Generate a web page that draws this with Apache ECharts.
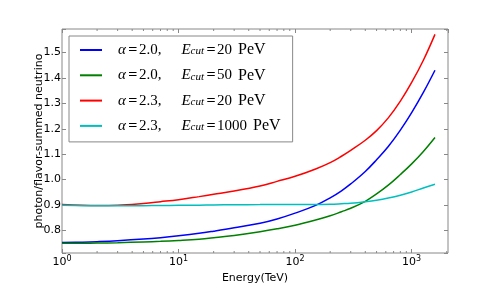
<!DOCTYPE html>
<html>
<head>
<meta charset="utf-8">
<script src="https://cdn.jsdelivr.net/npm/echarts@6/dist/echarts.min.js"></script>
<style>html,body{margin:0;padding:0;background:#fff;}#c{width:498px;height:289px;}</style>
</head>
<body>
<div id="c"></div>
<script>
// Energy (TeV) sample points
const energy = [1, 1.5, 2, 3, 5, 7, 10, 15, 20, 30, 50, 70, 100, 150, 200, 250, 300, 400, 500, 630, 800, 1000, 1260, 1585];
// photon / flavor-summed neutrino ratios
const blue_a20_E20   = [0.752,0.7537,0.7556,0.7593,0.7657,0.7713,0.7787,0.7885,0.797,0.810,0.828,0.845,0.868,0.8985,0.928,0.956,0.983,1.032,1.078,1.1302,1.1949,1.2638,1.3434,1.4307];
const green_a20_E50  = [0.749,0.7495,0.7502,0.7515,0.7545,0.757,0.7605,0.7655,0.771,0.780,0.7946,0.8062,0.8206,0.841,0.8575,0.8735,0.887,0.9145,0.9435,0.978,1.020,1.062,1.111,1.166];
const red_a23_E20    = [0.902,0.899,0.898,0.899,0.906,0.913,0.921,0.933,0.942,0.955,0.975,0.993,1.013,1.042,1.067,1.092,1.115,1.155,1.193,1.243,1.309,1.3825,1.470,1.572];
const cyan_a23_E1000 = [0.899,0.8975,0.897,0.897,0.8975,0.898,0.899,0.8995,0.900,0.901,0.9015,0.902,0.902,0.902,0.903,0.905,0.907,0.913,0.919,0.9275,0.9386,0.9515,0.967,0.982];

const alphas = ['2.0', '2.0', '2.3', '2.3'];
const ecuts = ['20', '50', '20', '1000'];
const seriesNames = alphas.map((a, i) => '{a|α}{e|=}{n|' + a + ',}{E|E}{s|cut}{q|=}{v|' + ecuts[i] + '}{p|PeV}');
const seriesColors = ['#0000ff', '#008000', '#ff0000', '#00bfbf'];
const seriesData = [blue_a20_E20, green_a20_E50, red_a23_E20, cyan_a23_E1000];

const xMin = 1, xMax = 2050, yMin = 0.711, yMax = 1.593;
const frame = '#888';

const minorTicks = [];
[1, 10, 100, 1000].forEach(d => { for (let k = 2; k <= 9; k++) { const v = k * d; if (v < xMax) minorTicks.push([v, yMin]); } });

const chart = echarts.init(document.getElementById('c'), null, {renderer: 'canvas'});

const supFmt = v => {
  const e = Math.round(Math.log10(v));
  if (Math.abs(Math.log10(v) - e) > 1e-6) return '';
  return '{b|10}{s|' + e + '}';
};

const series = seriesData.map((d, i) => ({
  name: seriesNames[i],
  type: 'line',
  data: energy.map((e, j) => [e, d[j]]),
  symbol: 'none',
  smooth: 0.4,
  lineStyle: {color: seriesColors[i], width: 1.5},
  itemStyle: {color: seriesColors[i]},
  xAxisIndex: 0, yAxisIndex: 0
}));

series.push({
  type: 'custom',
  xAxisIndex: 0, yAxisIndex: 0,
  data: minorTicks,
  silent: true,
  clip: false,
  renderItem: (params, api) => {
    const pb = api.coord([api.value(0), yMin]);
    const pt = api.coord([api.value(0), yMax]);
    return {type: 'group', children: [
      {type: 'line', shape: {x1: pb[0], y1: pb[1], x2: pb[0], y2: pb[1] - 2}, style: {stroke: frame, lineWidth: 1}},
      {type: 'line', shape: {x1: pt[0], y1: pt[1], x2: pt[0], y2: pt[1] + 2}, style: {stroke: frame, lineWidth: 1}}
    ]};
  }
});

const serif = 'Liberation Serif';
const richLegend = {
  a: {fontFamily: serif, fontStyle: 'italic', fontSize: 15, lineHeight: 14, padding: [0, 0, 0, 11]},
  e: {fontFamily: 'DejaVu Serif', fontSize: 12, lineHeight: 14, padding: [0, 1, 0, 2]},
  n: {fontFamily: serif, fontSize: 15, lineHeight: 14, padding: [0, 20, 0, 0]},
  E: {fontFamily: serif, fontStyle: 'italic', fontSize: 15, lineHeight: 14},
  s: {fontFamily: serif, fontStyle: 'italic', fontSize: 11, lineHeight: 8, verticalAlign: 'bottom', padding: [0, 1, 0, 0]},
  q: {fontFamily: 'DejaVu Serif', fontSize: 12, lineHeight: 14, padding: [0, 1, 0, 1]},
  v: {fontFamily: serif, fontSize: 15, lineHeight: 14},
  p: {fontFamily: serif, fontSize: 16, lineHeight: 14, padding: [0, 0, 0, 6]}
};

const tickLabelStyle = {fontFamily: 'DejaVu Sans', fontSize: 11, color: '#000'};

chart.setOption({
  animation: false,
  backgroundColor: '#fff',
  grid: {left: 62, right: 50, top: 29, bottom: 30, show: true, borderColor: frame, borderWidth: 1, backgroundColor: 'transparent'},
  legend: {
    data: seriesNames,
    left: 69, top: 36,
    orient: 'vertical',
    icon: 'rect',
    itemWidth: 22, itemHeight: 2, itemGap: 9.3,
    padding: [6, 12, 8, 11],
    backgroundColor: '#fff',
    borderColor: frame, borderWidth: 1, borderRadius: 0,
    textStyle: {color: '#000', fontFamily: serif, fontSize: 15, rich: richLegend}
  },
  xAxis: [{
    type: 'log', logBase: 10, min: xMin, max: xMax,
    name: 'Energy(TeV)', nameLocation: 'middle', nameGap: 20, nameMoveOverlap: false,
    nameTextStyle: {fontFamily: 'DejaVu Sans', fontSize: 11, color: '#000'},
    axisLine: {show: false},
    axisTick: {show: true, inside: true, length: 4, lineStyle: {color: frame}},
    splitLine: {show: false},
    axisLabel: {
      margin: 2, formatter: supFmt, showMaxLabel: false,
      rich: {
        b: {fontFamily: 'DejaVu Sans', fontSize: 11, color: '#000', lineHeight: 12, padding: [3, 0, 0, 0]},
        s: {fontFamily: 'DejaVu Sans', fontSize: 8, color: '#000', lineHeight: 8, verticalAlign: 'top'}
      }
    }
  }, {
    type: 'log', logBase: 10, min: xMin, max: xMax, position: 'top',
    axisLine: {show: false}, axisLabel: {show: false}, splitLine: {show: false},
    axisTick: {show: true, inside: true, length: 4, lineStyle: {color: frame}}
  }],
  yAxis: [{
    type: 'value', min: yMin, max: yMax, splitNumber: 8,
    name: 'photon/flavor-summed neutrino', nameLocation: 'middle', nameGap: 17, nameMoveOverlap: false,
    nameTextStyle: {fontFamily: 'DejaVu Sans', fontSize: 11, color: '#000'},
    axisLine: {show: false},
    axisTick: {show: true, inside: true, length: 4, lineStyle: {color: frame}},
    splitLine: {show: false},
    axisLabel: Object.assign({margin: 1, formatter: v => {
      const r = Math.round(v * 10) / 10;
      return Math.abs(v - r) < 1e-6 ? r.toFixed(1) : '';
    }}, tickLabelStyle)
  }, {
    type: 'value', min: yMin, max: yMax, splitNumber: 8, position: 'right',
    axisLine: {show: false}, axisLabel: {show: false}, splitLine: {show: false},
    axisTick: {show: true, inside: true, length: 4, lineStyle: {color: frame}}
  }],
  series: series
});
</script>
</body>
</html>
